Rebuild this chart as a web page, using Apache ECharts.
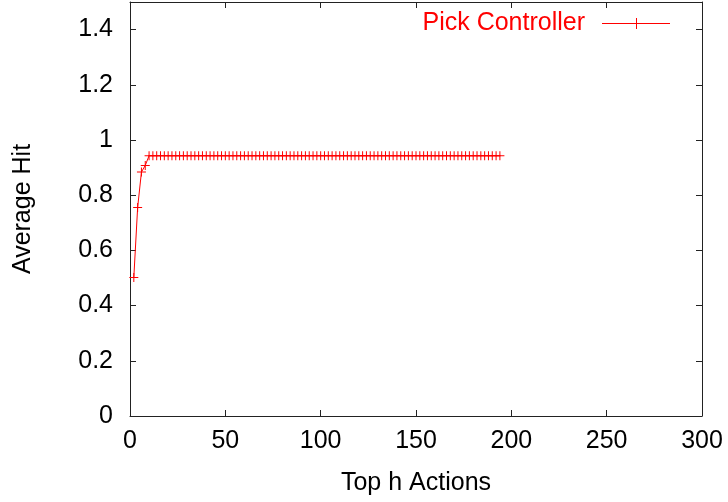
<!DOCTYPE html>
<html>
<head>
<meta charset="utf-8">
<script src="https://cdn.jsdelivr.net/npm/echarts@6/dist/echarts.min.js"></script>
<style>html,body{margin:0;padding:0;background:#fff}#c{width:728px;height:502px}</style>
</head>
<body>
<div id="c"></div>
<script>
var seriesName = 'Pick Controller';
var xValues = [2,4,6,8,10,12,14,16,18,20,22,24,26,28,30,32,34,36,38,40,42,44,46,48,50,52,54,56,58,60,62,64,66,68,70,72,74,76,78,80,82,84,86,88,90,92,94,96,98,100,102,104,106,108,110,112,114,116,118,120,122,124,126,128,130,132,134,136,138,140,142,144,146,148,150,152,154,156,158,160,162,164,166,168,170,172,174,176,178,180,182,184,186,188,190,192,194];
var yValues = [0.502,0.755,0.884,0.908,0.943,0.943,0.943,0.943,0.943,0.943,0.943,0.943,0.943,0.943,0.943,0.943,0.943,0.943,0.943,0.943,0.943,0.943,0.943,0.943,0.943,0.943,0.943,0.943,0.943,0.943,0.943,0.943,0.943,0.943,0.943,0.943,0.943,0.943,0.943,0.943,0.943,0.943,0.943,0.943,0.943,0.943,0.943,0.943,0.943,0.943,0.943,0.943,0.943,0.943,0.943,0.943,0.943,0.943,0.943,0.943,0.943,0.943,0.943,0.943,0.943,0.943,0.943,0.943,0.943,0.943,0.943,0.943,0.943,0.943,0.943,0.943,0.943,0.943,0.943,0.943,0.943,0.943,0.943,0.943,0.943,0.943,0.943,0.943,0.943,0.943,0.943,0.943,0.943,0.943,0.943,0.943,0.943];
var xTicks = [0,50,100,150,200,250,300];
var yTicks = [0,0.2,0.4,0.6,0.8,1,1.2,1.4];

var chart = echarts.init(document.getElementById('c'), null, {renderer:'canvas'});
var data = xValues.map(function(x,i){return [x, yValues[i]];});
var font = 'Liberation Sans, Arial, sans-serif';
var fs = 25;
var red = '#ff0000';
var lineColor = '#222';
var plus = 'path://M0,4h9v1h-9zM4,0h1v9h-1z';
var legendIcon = 'path://M0,5h68v1h-68zM34,0h1v11h-1z';
function xAxisBase(pos, show){
  return {type:'value', position:pos, min:xTicks[0], max:xTicks[xTicks.length-1], interval:50,
    axisLine:{show:true, onZero:false, lineStyle:{color:lineColor,width:1}},
    axisTick:{show:true, inside:true, length:6, lineStyle:{color:lineColor}},
    axisLabel:{show:show, color:'#000', fontSize:fs, fontFamily:font, margin:13},
    splitLine:{show:false}};
}
function yAxisBase(pos, show){
  return {type:'value', position:pos, min:0, max:1.5, interval:0.2,
    axisLine:{show:true, onZero:false, lineStyle:{color:lineColor,width:1}},
    axisTick:{show:true, inside:true, length:6, lineStyle:{color:lineColor}},
    axisLabel:{show:show, color:'#000', fontSize:fs, fontFamily:font, margin:17, showMaxLabel:false,
      formatter:function(v){return yTicks.indexOf(Math.round(v*10)/10)>=0 ? String(Math.round(v*10)/10) : '';}},
    splitLine:{show:false}};
}
var xa = xAxisBase('bottom', true);
xa.name = 'Top h Actions'; xa.nameLocation='middle'; xa.nameGap=55;
xa.nameTextStyle = {color:'#000', fontSize:fs, fontFamily:font};
var ya = yAxisBase('left', true);
ya.name = 'Average Hit'; ya.nameLocation='middle'; ya.nameGap=94;
ya.nameTextStyle = {color:'#000', fontSize:fs, fontFamily:font};

chart.setOption({
  animation:false,
  backgroundColor:'#fff',
  grid:{left:130, right:26, top:2, bottom:86, containLabel:false},
  legend:{show:true, right:58, top:11, padding:0, align:'right', itemWidth:68, itemHeight:11,
    textStyle:{color:red, fontSize:fs, fontFamily:font, padding:[0,12,0,0]},
    data:[{name:seriesName, icon:legendIcon,
      itemStyle:{color:red, borderWidth:0}}]},
  xAxis:[xa, xAxisBase('top', false)],
  yAxis:[ya, yAxisBase('right', false)],
  series:[{
    name:seriesName, type:'line', xAxisIndex:0, yAxisIndex:0,
    data:data, symbol:plus, symbolSize:9, showSymbol:true,
    lineStyle:{color:red, width:1},
    itemStyle:{color:red, borderWidth:0}
  }]
});
</script>
</body>
</html>
